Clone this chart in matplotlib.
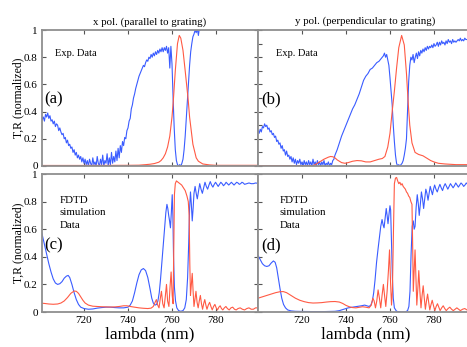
import matplotlib
matplotlib.use("Agg")
import matplotlib.pyplot as plt

plt.rcParams['font.family'] = ['Liberation Serif', 'DejaVu Serif']

BLUE = '#3a5cff'
RED = '#ff5a44'

# ---------------- (a) experimental, x pol ----------------
a_blue_lam = [700, 700.5, 701, 701.5, 702, 702.5, 703, 703.5, 704, 704.5, 705, 705.5, 706, 706.5, 707, 707.5,
              708, 708.5, 709, 709.5, 710, 710.5, 711, 711.5, 712, 712.5, 713, 713.5, 714, 714.5, 715, 715.5,
              716, 716.5, 717, 717.5, 718, 718.5, 719, 719.5, 720, 720.5, 721, 721.5, 722, 722.5, 723, 723.5,
              724, 724.5, 725, 725.5, 726, 726.5, 727, 727.5, 728, 728.5, 729, 729.5, 730, 730.5, 731, 731.5,
              732, 732.5, 733, 733.5, 734, 734.5, 735, 735.5, 736, 736.5, 737, 737.5, 738, 738.5, 739, 739.5,
              740, 740.5, 741, 741.5, 742, 742.5, 743, 743.5, 744, 744.5, 745, 745.5, 746, 746.5, 747, 747.5,
              748, 748.5, 749, 749.5, 750, 750.5, 751, 751.5, 752, 752.5, 753, 753.5, 754, 754.5, 755, 755.5,
              756, 756.5, 757, 757.5, 758, 758.5, 759, 759.5, 760, 760.5, 761, 761.5, 762, 762.5, 763, 763.5,
              764, 764.5, 765, 765.5, 766, 766.5, 767, 767.5, 768, 768.5, 769, 769.5, 770, 770.5, 771, 771.5,
              772, 772.5, 773, 773.5, 774.5, 776, 780, 790, 800]
a_blue_val = [0.35, 0.38, 0.34, 0.36, 0.33, 0.38, 0.36, 0.39, 0.35, 0.37, 0.33, 0.34, 0.31, 0.33, 0.29, 0.31,
              0.30, 0.26, 0.28, 0.25, 0.23, 0.24, 0.20, 0.21, 0.17, 0.19, 0.15, 0.16, 0.13, 0.14, 0.10, 0.12,
              0.08, 0.10, 0.06, 0.08, 0.05, 0.07, 0.03, 0.06, 0.02, 0.05, 0.01, 0.04, 0.00, 0.05, 0.02, 0.00,
              0.06, 0.01, 0.03, 0.00, 0.07, 0.02, 0.00, 0.05, 0.01, 0.08, 0.00, 0.04, 0.02, 0.09, 0.00, 0.06,
              0.01, 0.10, 0.02, 0.07, 0.03, 0.11, 0.04, 0.13, 0.06, 0.15, 0.10, 0.18, 0.15, 0.21, 0.20, 0.26,
              0.28, 0.33, 0.35, 0.42, 0.45, 0.50, 0.53, 0.57, 0.60, 0.63, 0.66, 0.68, 0.70, 0.72, 0.74, 0.73,
              0.76, 0.78, 0.77, 0.80, 0.79, 0.82, 0.80, 0.83, 0.81, 0.84, 0.82, 0.85, 0.83, 0.86, 0.84, 0.87,
              0.84, 0.87, 0.85, 0.88, 0.83, 0.87, 0.72, 0.88, 0.75, 0.50, 0.28, 0.12, 0.04, 0.01, 0.00, 0.01,
              0.00, 0.02, 0.05, 0.12, 0.22, 0.35, 0.49, 0.62, 0.74, 0.84, 0.90, 0.95, 0.97, 1.00, 0.98, 1.01,
              0.96, 1.02, 1.00, 1.03, 1.05, 1.08, 1.10, 1.10, 1.10]

a_red_lam = [700, 720, 740, 745, 748, 750, 752, 754, 755, 756, 757, 758, 759, 760, 760.6, 761.5, 762.5,
             763.3, 764, 765, 766, 767.4, 768, 768.6, 769.5, 771, 772, 774, 777, 780, 800]
a_red_val = [0.004, 0.004, 0.005, 0.006, 0.01, 0.013, 0.018, 0.028, 0.04, 0.06, 0.09, 0.14, 0.22, 0.36, 0.48,
             0.70, 0.90, 0.96, 0.94, 0.85, 0.70, 0.48, 0.36, 0.28, 0.16, 0.06, 0.035, 0.015, 0.008, 0.005, 0.005]

# ---------------- (b) experimental, y pol ----------------
b_blue_lam = [700, 700.5, 701, 701.5, 702, 702.5, 703, 703.5, 704, 704.5, 705, 705.5, 706, 706.5, 707, 707.5,
              708, 708.5, 709, 709.5, 710, 710.5, 711, 711.5, 712, 712.5, 713, 713.5, 714, 714.5, 715, 715.5,
              716, 716.5, 717, 717.5, 718, 718.5, 719, 719.5, 720, 720.5, 721, 721.5, 722, 722.5, 723, 723.5,
              724, 724.5, 725, 725.5, 726, 726.5, 727, 727.5, 728, 728.5, 729, 729.5, 730, 730.5, 731, 731.5,
              732, 732.5, 733, 733.5, 734, 734.5, 735, 735.5, 736, 737, 738, 739, 740, 741, 742, 743,
              744, 745, 746, 747, 748, 749, 750, 751, 752, 753, 754, 755, 756, 757, 757.5, 758,
              758.5, 759, 759.5, 760, 760.5, 761, 761.5, 762, 762.5, 763, 763.5, 764, 764.5, 765, 765.5, 766,
              766.5, 767, 767.5, 768, 768.5, 769, 769.5, 770, 770.5, 771, 771.5, 772, 772.5, 773, 773.5, 774,
              774.5, 775, 775.5, 776, 776.5, 777, 777.5, 778, 778.5, 779, 779.5, 780, 780.5, 781, 781.5, 782,
              782.5, 783, 783.5, 784, 784.5, 785, 785.5, 786, 786.5, 787, 787.5, 788, 788.5, 789, 789.5, 790,
              791, 791.5, 792, 792.5, 793, 793.5, 794, 794.5, 795, 796, 797, 798]
b_blue_val = [0.26, 0.24, 0.27, 0.25, 0.29, 0.28, 0.31, 0.29, 0.30, 0.27, 0.28, 0.25, 0.26, 0.23, 0.24, 0.21,
              0.22, 0.18, 0.19, 0.16, 0.17, 0.13, 0.15, 0.11, 0.12, 0.08, 0.11, 0.07, 0.08, 0.05, 0.07, 0.03,
              0.06, 0.02, 0.05, 0.01, 0.04, 0.02, 0.05, 0.01, 0.03, 0.00, 0.04, 0.01, 0.03, 0.00, 0.04, 0.01,
              0.03, 0.00, 0.05, 0.01, 0.03, 0.00, 0.04, 0.01, 0.03, 0.00, 0.03, 0.01, 0.04, 0.00, 0.02, 0.01,
              0.03, 0.00, 0.02, 0.01, 0.04, 0.05, 0.08, 0.10, 0.12, 0.17, 0.22, 0.26, 0.30, 0.34, 0.38, 0.42,
              0.45, 0.49, 0.53, 0.58, 0.63, 0.66, 0.68, 0.71, 0.72, 0.74, 0.76, 0.77, 0.79, 0.81, 0.83, 0.80,
              0.82, 0.78, 0.74, 0.65, 0.55, 0.45, 0.30, 0.18, 0.08, 0.02, 0.00, 0.01, 0.00, 0.01, 0.02, 0.04,
              0.08, 0.13, 0.20, 0.40, 0.62, 0.74, 0.80, 0.78, 0.82, 0.76, 0.80, 0.83, 0.79, 0.84, 0.81, 0.85,
              0.83, 0.86, 0.84, 0.87, 0.85, 0.88, 0.86, 0.88, 0.87, 0.89, 0.87, 0.90, 0.88, 0.89, 0.91, 0.88,
              0.91, 0.89, 0.92, 0.90, 0.91, 0.89, 0.92, 0.90, 0.93, 0.91, 0.92, 0.90, 0.93, 0.91, 0.92, 0.91,
              0.93, 0.92, 0.94, 0.92, 0.93, 0.92, 0.94, 0.93, 0.93, 0.94, 0.93, 0.94]

b_red_lam = [700, 725, 726, 728, 730, 732, 733, 734, 735, 736, 737, 738, 739.5, 741, 743, 745, 747, 749, 751,
             753, 755, 756.5, 757.7, 759, 760, 761, 762, 763, 764, 765.3, 766.5, 767.5, 768.3, 769, 770,
             771.4, 773, 775, 777, 778.5, 780, 782, 785, 790, 795, 798]
b_red_val = [0.003, 0.003, 0.01, 0.03, 0.05, 0.065, 0.07, 0.068, 0.06, 0.045, 0.035, 0.025, 0.02, 0.025, 0.035,
             0.04, 0.038, 0.03, 0.03, 0.04, 0.05, 0.055, 0.07, 0.14, 0.24, 0.40, 0.55, 0.72, 0.87, 0.96, 0.89,
             0.68, 0.46, 0.30, 0.17, 0.10, 0.085, 0.075, 0.055, 0.04, 0.03, 0.02, 0.015, 0.01, 0.01, 0.01]

# ---------------- (c) FDTD, x pol ----------------
c_blue_lam = [700, 701, 702, 703, 704, 705, 706, 707, 708, 709, 710, 711, 712, 712.8, 713.5, 714.5, 715.5,
              716.5, 717.5, 718.5, 720, 722, 724, 726, 728, 730, 732, 734, 736, 738, 740, 741, 742, 743, 744,
              745, 746, 747, 748, 749, 750, 750.8, 751.5, 752.3, 753, 753.6, 754.2, 754.8, 755.4, 756, 756.6,
              757.2, 757.7, 758.1, 758.5, 758.9, 759.3, 759.7, 760.1, 760.4, 760.7, 761.1, 761.6, 762.2, 763,
              764, 765, 765.8, 766.5, 767.1, 767.6, 768.0, 768.4, 768.8, 769.2, 769.6, 770.0, 770.5, 771.0,
              771.5, 772.0, 772.6, 773.2, 773.8, 774.4, 775.0, 775.6, 776.2, 776.8, 777.4, 778.0, 778.6, 779.2,
              779.8, 780.4, 781.0, 781.6, 782.2, 782.8, 783.4, 784.0, 784.6, 785.2, 785.8, 786.4, 787, 787.6,
              788.2, 788.8, 789.4, 790, 790.6, 791.2, 791.8, 792.4, 793, 794, 795, 796, 797, 798, 800]
c_blue_val = [0.62, 0.56, 0.49, 0.42, 0.35, 0.29, 0.24, 0.21, 0.20, 0.205, 0.22, 0.245, 0.26, 0.265, 0.25,
              0.20, 0.14, 0.09, 0.055, 0.035, 0.025, 0.02, 0.022, 0.028, 0.032, 0.035, 0.035, 0.032, 0.03,
              0.03, 0.035, 0.05, 0.08, 0.14, 0.21, 0.27, 0.305, 0.315, 0.30, 0.25, 0.17, 0.10, 0.065, 0.05,
              0.055, 0.08, 0.14, 0.24, 0.36, 0.48, 0.60, 0.72, 0.78, 0.75, 0.70, 0.66, 0.61, 0.72, 0.85, 0.70,
              0.40, 0.18, 0.08, 0.03, 0.01, 0.005, 0.01, 0.03, 0.09, 0.25, 0.50, 0.75, 0.87, 0.78, 0.66, 0.75,
              0.86, 0.91, 0.86, 0.82, 0.87, 0.93, 0.89, 0.86, 0.90, 0.94, 0.91, 0.89, 0.92, 0.945, 0.92, 0.905,
              0.925, 0.94, 0.925, 0.91, 0.925, 0.94, 0.93, 0.915, 0.925, 0.94, 0.93, 0.92, 0.93, 0.94, 0.93,
              0.92, 0.93, 0.94, 0.935, 0.925, 0.93, 0.94, 0.935, 0.925, 0.93, 0.935, 0.93, 0.93, 0.935, 0.93]

c_red_lam = [700, 702, 704, 706, 708, 709.5, 711, 712.5, 714, 715.5, 716.5, 717.5, 718.5, 719.5, 720.5, 722,
             724, 726, 728, 730, 732, 734, 736, 738, 739.5, 741, 743, 745, 747, 749, 750.5, 751.5, 752.3,
             752.9, 753.5, 754.1, 754.7, 755.2, 755.8, 756.4, 757, 757.5, 758.0, 758.6, 759.1, 759.6, 760.1,
             760.5, 760.8, 761.1, 761.5, 762, 762.8, 763.6, 764.4, 765.2, 766, 766.8, 767.4, 767.8, 768.1,
             768.4, 768.8, 769.2, 769.6, 770, 770.5, 770.9, 771.4, 771.9, 772.4, 772.9, 773.4, 773.9, 774.4,
             774.9, 775.4, 775.9, 776.5, 777.1, 777.7, 778.3, 778.9, 779.5, 780.1, 780.7, 781.3, 781.9, 782.5,
             783.1, 783.8, 784.5, 785.2, 786, 786.8, 787.6, 788.4, 789.2, 790, 791, 792, 793, 794, 795, 796,
             797, 798, 800]
c_red_val = [0.065, 0.062, 0.058, 0.056, 0.058, 0.065, 0.08, 0.105, 0.135, 0.152, 0.15, 0.135, 0.11, 0.085,
             0.065, 0.05, 0.042, 0.04, 0.038, 0.037, 0.036, 0.037, 0.04, 0.045, 0.045, 0.04, 0.035, 0.03,
             0.027, 0.025, 0.028, 0.04, 0.07, 0.09, 0.05, 0.03, 0.10, 0.15, 0.06, 0.03, 0.12, 0.20, 0.08,
             0.04, 0.18, 0.29, 0.12, 0.06, 0.45, 0.85, 0.93, 0.95, 0.94, 0.93, 0.92, 0.90, 0.88, 0.84, 0.80,
             0.70, 0.35, 0.12, 0.20, 0.28, 0.15, 0.04, 0.10, 0.15, 0.07, 0.03, 0.08, 0.12, 0.06, 0.02, 0.06,
             0.09, 0.05, 0.02, 0.05, 0.07, 0.04, 0.015, 0.04, 0.055, 0.03, 0.015, 0.035, 0.045, 0.025, 0.015,
             0.03, 0.04, 0.025, 0.015, 0.03, 0.035, 0.02, 0.015, 0.025, 0.03, 0.02, 0.015, 0.025, 0.03, 0.02,
             0.02, 0.03, 0.03]

# ---------------- (d) FDTD, y pol ----------------
d_blue_lam = [700, 701, 702, 703, 704, 705, 706, 707, 707.8, 708.5, 709.2, 710, 710.8, 711.6, 712.5, 713.5,
              715, 717, 720, 725, 730, 735, 737, 739, 741, 743, 745, 747, 748.5, 749.5, 750.5, 751.3, 752,
              752.6, 753.2, 753.9, 754.6, 755.2, 755.8, 756.4, 756.9, 757.3, 757.8, 758.3, 758.7, 759.1, 759.5,
              760.0, 760.3, 760.7, 761.1, 761.5, 762, 763, 765, 767, 768, 768.6, 769.1, 769.6, 770.1, 770.6,
              771.0, 771.4, 771.9, 772.4, 772.9, 773.3, 773.8, 774.3, 774.8, 775.3, 775.8, 776.3, 776.8, 777.3,
              777.8, 778.3, 778.8, 779.3, 779.8, 780.3, 780.9, 781.5, 782.1, 782.7, 783.3, 783.9, 784.5, 785.1,
              785.7, 786.3, 786.9, 787.5, 788.1, 788.7, 789.3, 789.9, 790.5, 791.1, 791.7, 792.3, 792.9, 793.5,
              794.1, 794.7, 795.3, 796, 797, 798]
d_blue_val = [0.41, 0.38, 0.35, 0.335, 0.33, 0.335, 0.355, 0.37, 0.36, 0.32, 0.25, 0.17, 0.10, 0.055, 0.03,
              0.015, 0.008, 0.005, 0.004, 0.003, 0.003, 0.005, 0.01, 0.02, 0.03, 0.035, 0.04, 0.045, 0.05,
              0.045, 0.04, 0.05, 0.08, 0.14, 0.23, 0.36, 0.46, 0.54, 0.62, 0.67, 0.63, 0.61, 0.68, 0.75, 0.70,
              0.64, 0.70, 0.77, 0.74, 0.50, 0.25, 0.10, 0.03, 0.005, 0.0, 0.0, 0.01, 0.04, 0.15, 0.42, 0.62,
              0.66, 0.60, 0.62, 0.76, 0.85, 0.78, 0.70, 0.78, 0.87, 0.82, 0.75, 0.82, 0.89, 0.86, 0.81, 0.86,
              0.91, 0.88, 0.85, 0.89, 0.92, 0.89, 0.87, 0.90, 0.925, 0.90, 0.88, 0.91, 0.93, 0.91, 0.89, 0.91,
              0.93, 0.915, 0.90, 0.915, 0.935, 0.92, 0.905, 0.92, 0.935, 0.925, 0.91, 0.92, 0.935, 0.925,
              0.915, 0.93, 0.935]

d_red_lam = [700, 702, 704, 706, 708, 710, 711.5, 713, 715, 717, 719, 721, 723, 725, 727, 729, 731, 733, 735,
             737, 738.5, 740, 741.5, 743, 744.5, 746, 747.5, 749, 750.5, 751.5, 752.2, 752.8, 753.4, 754,
             754.6, 755.2, 755.8, 756.4, 757, 757.6, 758.1, 758.7, 759.3, 759.8, 760.3, 760.7, 761.1, 761.6,
             762.0, 762.5, 763.0, 763.5, 764, 764.5, 765, 765.5, 766, 766.5, 767, 767.5, 768, 768.5, 769,
             769.5, 770, 770.3, 770.6, 771.0, 771.4, 771.8, 772.2, 772.7, 773.1, 773.6, 774.1, 774.6, 775.1,
             775.6, 776.1, 776.6, 777.1, 777.6, 778.1, 778.6, 779.2, 779.8, 780.4, 781, 781.6, 782.2, 782.8,
             783.5, 784.2, 784.9, 785.6, 786.4, 787.2, 788, 788.8, 789.6, 790.4, 791.2, 792, 793, 794, 795,
             796, 797, 798]
d_red_val = [0.10, 0.11, 0.12, 0.13, 0.14, 0.147, 0.148, 0.14, 0.12, 0.10, 0.085, 0.075, 0.068, 0.065, 0.066,
             0.068, 0.072, 0.075, 0.076, 0.072, 0.062, 0.048, 0.038, 0.032, 0.03, 0.034, 0.038, 0.035, 0.03,
             0.05, 0.10, 0.08, 0.03, 0.08, 0.16, 0.10, 0.03, 0.12, 0.20, 0.11, 0.04, 0.15, 0.30, 0.45, 0.20,
             0.05, 0.15, 0.60, 0.93, 0.97, 0.975, 0.95, 0.93, 0.94, 0.92, 0.93, 0.91, 0.90, 0.89, 0.87, 0.86,
             0.84, 0.83, 0.80, 0.78, 0.50, 0.15, 0.30, 0.45, 0.25, 0.05, 0.18, 0.30, 0.15, 0.03, 0.12, 0.19,
             0.10, 0.02, 0.08, 0.13, 0.07, 0.015, 0.05, 0.085, 0.045, 0.01, 0.04, 0.06, 0.035, 0.01, 0.03,
             0.045, 0.025, 0.01, 0.025, 0.035, 0.02, 0.01, 0.02, 0.03, 0.02, 0.01, 0.02, 0.025, 0.015, 0.01,
             0.02, 0.02]

titles = ['x pol. (parallel to grating)', 'y pol. (perpendicular to grating)']
x_ticks = [720, 740, 760, 780]
y_ticks = [0, 0.2, 0.4, 0.6, 0.8, 1]
y_ticklabels = ['0', '0.2', '0.4', '0.6', '0.8', '1']

W, H = 467, 347
fig = plt.figure(figsize=(W / 100, H / 100), dpi=100)


def frac(x0, y_top, w, h):
    return [x0 / W, 1 - (y_top + h) / H, w / W, h / H]


ax_a = fig.add_axes(frac(42, 30, 216, 136))
ax_b = fig.add_axes(frac(258, 30, 216, 136))
ax_c = fig.add_axes(frac(42, 174, 216, 138))
ax_d = fig.add_axes(frac(258, 174, 216, 138))

SPINE = '#8f8f8f'
for ax in (ax_a, ax_b, ax_c, ax_d):
    ax.set_ylim(0, 1)
    ax.set_xticks(x_ticks)
    ax.tick_params(direction='in', top=True, right=True, length=3, width=0.8,
                   colors='#555555', labelcolor='black', labelsize=8, pad=3)
    for s in ax.spines.values():
        s.set_color(SPINE)
        s.set_linewidth(1.3)

for ax in (ax_a, ax_c):
    ax.set_xlim(700.9, 799.1)
    ax.set_yticks(y_ticks)
    ax.set_yticklabels(y_ticklabels)
    ax.set_ylabel('T,R (normalized)', fontsize=8.5, labelpad=0)
for ax in (ax_b, ax_d):
    ax.set_xlim(700, 798.2)
    ax.set_yticklabels([])
ax_b.set_yticks([0.1 * i for i in range(11)])
ax_b.set_yticklabels([])
ax_d.set_yticks(y_ticks)
ax_d.set_yticklabels([])
for ax in (ax_a, ax_b):
    ax.set_xticklabels([])
for ax in (ax_c, ax_d):
    ax.set_xlabel('lambda (nm)', fontsize=12.5, labelpad=1)

lw = 0.8
ax_a.plot(a_blue_lam, a_blue_val, color=BLUE, lw=lw)
ax_a.plot(a_red_lam, a_red_val, color=RED, lw=lw)
ax_b.plot(b_blue_lam, b_blue_val, color=BLUE, lw=lw)
ax_b.plot(b_red_lam, b_red_val, color=RED, lw=lw)
ax_c.plot(c_blue_lam, c_blue_val, color=BLUE, lw=lw)
ax_c.plot(c_red_lam, c_red_val, color=RED, lw=lw)
ax_d.plot(d_blue_lam, d_blue_val, color=BLUE, lw=lw)
ax_d.plot(d_red_lam, d_red_val, color=RED, lw=lw)

ax_a.set_title(titles[0], fontsize=7.8, pad=4)
fig.text(365 / W, 1 - 21 / H, titles[1], fontsize=7.8, ha='center', va='center')

ax_a.text(706.8, 0.83, 'Exp. Data', fontsize=7.5, va='center')
ax_b.text(708.0, 0.83, 'Exp. Data', fontsize=7.5, va='center')
ax_a.text(701.8, 0.49, '(a)', fontsize=12, va='center')
ax_b.text(701.4, 0.49, '(b)', fontsize=12, va='center')
ax_c.text(708.8, 0.72, 'FDTD\nsimulation\nData', fontsize=7.8, va='center', linespacing=1.5)
ax_d.text(710.0, 0.72, 'FDTD\nsimulation\nData', fontsize=7.8, va='center', linespacing=1.5)
ax_c.text(701.8, 0.485, '(c)', fontsize=12, va='center')
ax_d.text(701.7, 0.485, '(d)', fontsize=12, va='center')

fig.savefig('out.png', dpi=100)
